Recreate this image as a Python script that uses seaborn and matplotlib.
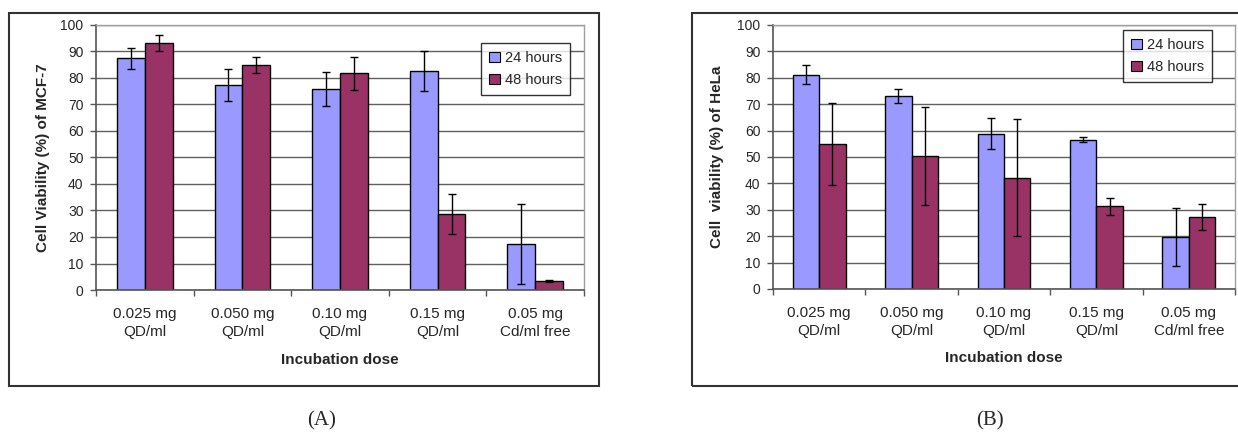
import numpy as np
import pandas as pd
import matplotlib
matplotlib.use("Agg")
import matplotlib.pyplot as plt
from matplotlib.patches import Rectangle
import seaborn as sns

# Data
doses = ["0.025 mg\nQD/ml", "0.050 mg\nQD/ml", "0.10 mg\nQD/ml", "0.15 mg\nQD/ml", "0.05 mg\nCd/ml free"]
times = ["24 hours", "48 hours"]

mcf7_24 = [87.5, 77.3, 75.8, 82.6, 17.4]
mcf7_24_err = [4.0, 6.0, 6.3, 7.4, 15.2]
mcf7_48 = [93.2, 84.9, 81.7, 28.6, 3.5]
mcf7_48_err = [2.9, 3.1, 6.2, 7.5, 0.4]

hela_24 = [81.2, 73.2, 58.9, 56.6, 19.8]
hela_24_err = [3.7, 2.6, 5.8, 0.8, 11.0]
hela_48 = [54.9, 50.3, 42.2, 31.4, 27.3]
hela_48_err = [15.5, 18.5, 22.3, 3.2, 5.0]

colors = ["#9999FF", "#993366"]

sns.set_style("white")
plt.rcParams['font.family'] = ['Liberation Sans', 'DejaVu Sans']

W, H = 1238, 437
fig = plt.figure(figsize=(W / 100, H / 100), dpi=100)


def px_axes(x0, y0, x1, y1):
    return fig.add_axes([x0 / W, 1 - y1 / H, (x1 - x0) / W, (y1 - y0) / H])


def draw_panel(ax, v24, e24, v48, e48, ylabel, legend_anchor):
    df = pd.DataFrame({
        "dose": doses * 2,
        "time": [times[0]] * 5 + [times[1]] * 5,
        "value": v24 + v48,
    })
    sns.barplot(data=df, x="dose", y="value", hue="time", palette=colors,
                width=0.57, edgecolor="black", linewidth=1, errorbar=None,
                saturation=1, ax=ax)
    # error bars from the given values
    for cont, vals, errs in zip(ax.containers, [v24, v48], [e24, e48]):
        xs = [b.get_x() + b.get_width() / 2 for b in cont]
        ax.errorbar(xs, vals, yerr=errs, fmt="none", ecolor="black",
                    elinewidth=1, capsize=3.2, capthick=1, zorder=5)

    ax.set_ylim(0, 100)
    ax.set_xlim(-0.5, 4.5)
    ax.set_yticks(np.arange(0, 101, 10))
    ax.yaxis.grid(True, color="#606060", linewidth=1)
    ax.set_axisbelow(True)
    ax.tick_params(axis="y", which="major", length=4, width=1, color="#555555",
                   pad=5, labelsize=10, direction="out", left=True)
    ax.tick_params(axis="x", which="major", length=0, pad=12, labelsize=11)
    for lab in ax.get_xticklabels():
        lab.set_linespacing(1.35)
    ax.set_xticks(np.arange(-0.5, 5, 1), minor=True)
    ax.tick_params(axis="x", which="minor", length=4, width=1, color="#555555",
                   direction="out", bottom=True)
    for s in ["left", "bottom"]:
        ax.spines[s].set_color("#555555")
        ax.spines[s].set_linewidth(1.2)
    for s in ["top", "right"]:
        ax.spines[s].set_visible(True)
        ax.spines[s].set_color("#a0a0a0")
        ax.spines[s].set_linewidth(1)

    ax.set_ylabel(ylabel, fontsize=11, fontweight="bold", va="center")
    ax.set_xlabel("Incubation dose", fontsize=11, fontweight="bold", va="center")

    leg = ax.legend(loc="upper right", bbox_to_anchor=legend_anchor,
                    borderaxespad=0, fontsize=10.5, frameon=True, fancybox=False,
                    handlelength=0.75, handleheight=0.75, handletextpad=0.3,
                    labelspacing=0.55, borderpad=0.55)
    leg.get_frame().set_edgecolor("black")
    leg.get_frame().set_linewidth(1)
    for h in leg.legend_handles:
        h.set_edgecolor("black")
        h.set_linewidth(0.8)


# panel A
axA = px_axes(96, 25, 584, 290)
draw_panel(axA, mcf7_24, mcf7_24_err, mcf7_48, mcf7_48_err,
           "Cell Viability (%) of MCF-7", (0.971, 0.932))
axA.yaxis.set_label_coords((43 - 96) / 488, 0.5)
axA.xaxis.set_label_coords(0.5, (290 - 360) / 265)

# panel B
axB = px_axes(773, 25, 1235, 289)
draw_panel(axB, hela_24, hela_24_err, hela_48, hela_48_err,
           "Cell  viability (%) of HeLa", (0.950, 0.981))
axB.yaxis.set_label_coords((717 - 773) / 462, 0.5)
axB.xaxis.set_label_coords(0.5, (289 - 358) / 264)

# outer frames
for x0, x1 in [(9, 599), (692, 1250)]:
    fig.patches.append(Rectangle((x0 / W, 1 - 386 / H), (x1 - x0) / W, (386 - 13) / H,
                                 transform=fig.transFigure, fill=False,
                                 edgecolor="#333333", linewidth=1.5))

fig.text(322 / W, 1 - 421 / H, "(A)", fontsize=15, family="Liberation Serif",
         ha="center", va="center")
fig.text(990 / W, 1 - 421 / H, "(B)", fontsize=15, family="Liberation Serif",
         ha="center", va="center")

fig.savefig("out.png", dpi=100, facecolor="white")
